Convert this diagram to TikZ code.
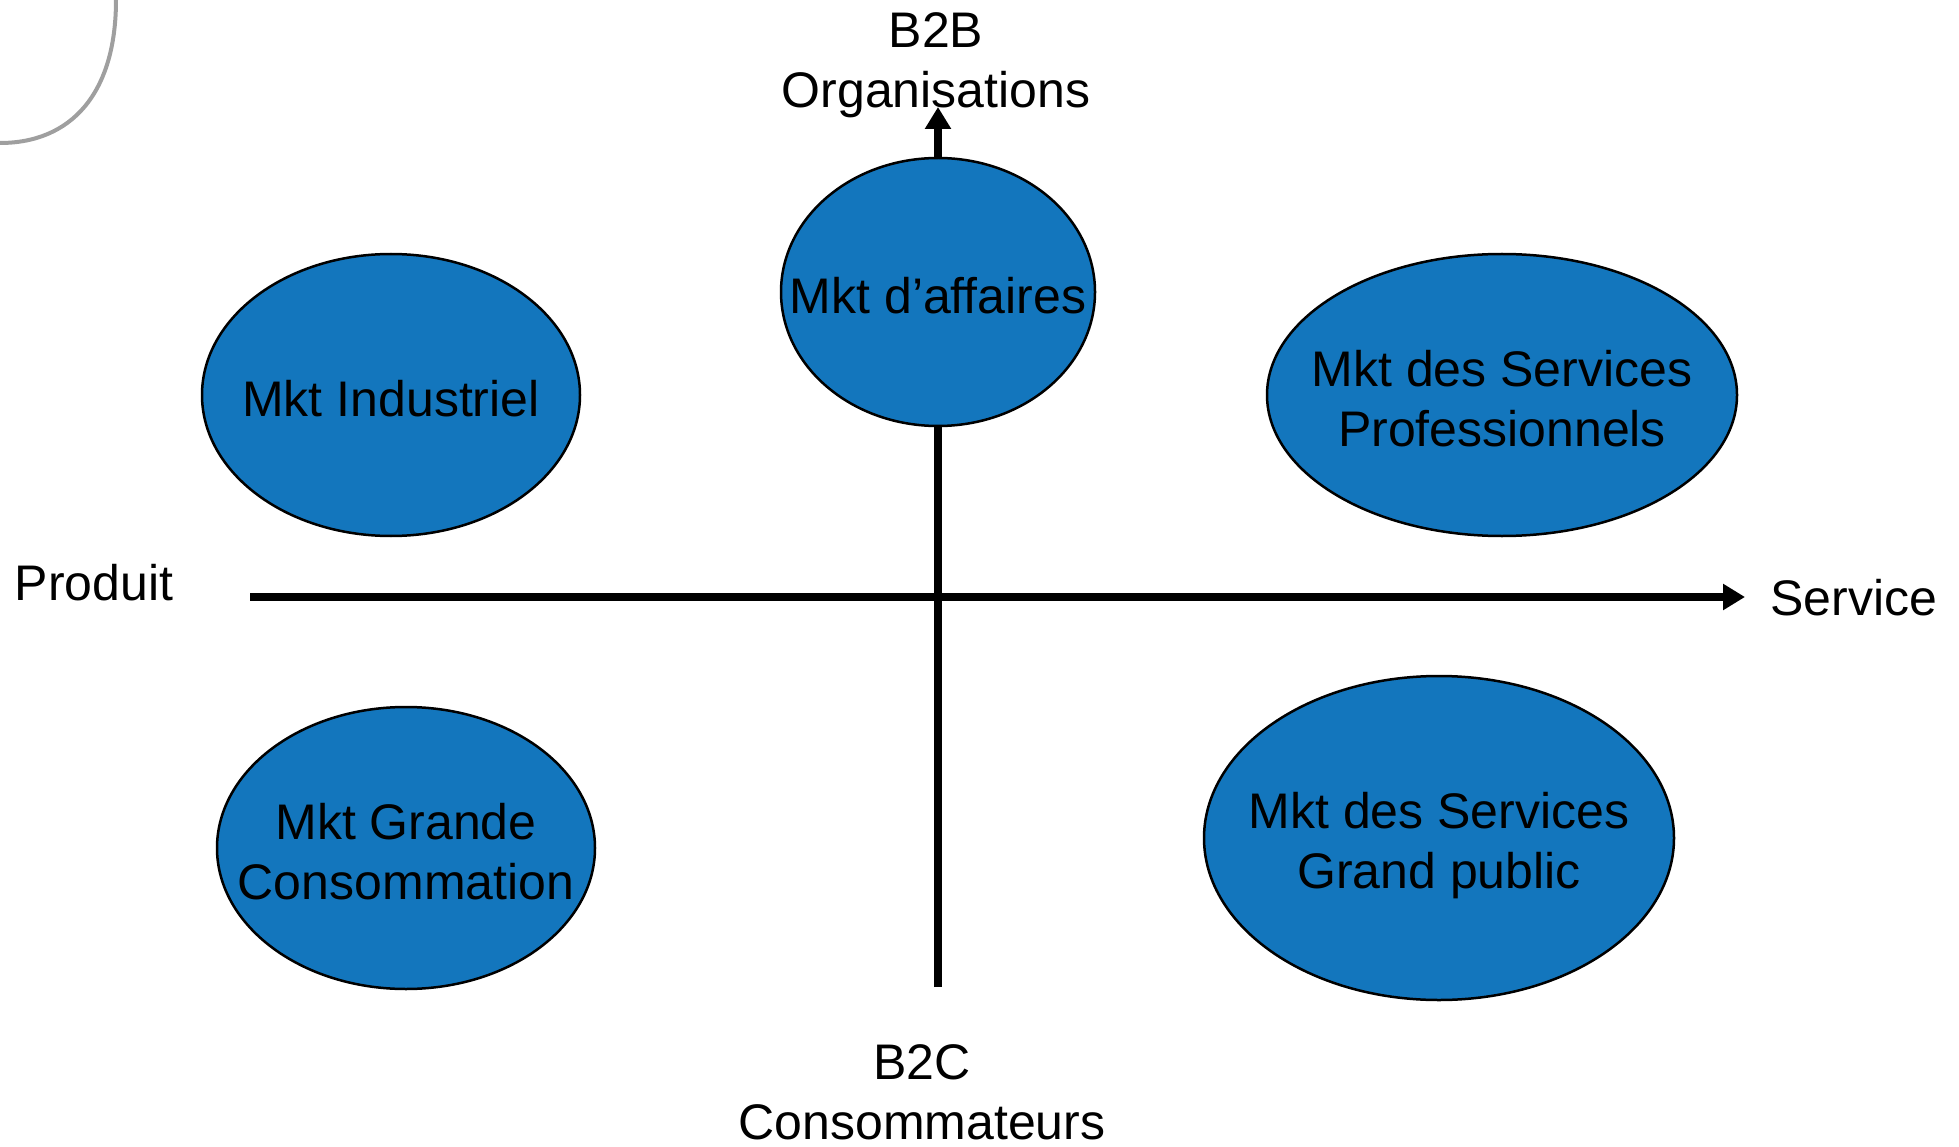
\documentclass[tikz,border=0pt]{standalone}
\usepackage{fontspec}
\setmainfont{Liberation Sans}
\usepackage{tikz}
\usetikzlibrary{arrows,arrows.meta,shapes.geometric,positioning}
\definecolor{mktblue}{RGB}{19,118,189}

\begin{document}
\begin{tikzpicture}
	[x=1pt,y=-1pt,every node/.style={font=\fontsize{50}{60}\selectfont,align=center,inner sep=0pt},
	mkt/.style={ellipse,draw=black,line width=2.5pt,fill=mktblue},
	mkttext/.style={yshift=-3.5pt},
	axis/.style={line width=8pt,-{Triangle[length=22pt,width=25pt]}}]
	\useasboundingbox (0,0) rectangle (1959,1147);
	% corner of the slide frame
	\draw[gray!75,line width=4pt] (116,0) .. controls (116,95) and (70,143) .. (0,143);
	
	% axes
	\coordinate (west) at (250,597);
	\coordinate (east) at (1745,597);
	\coordinate (south) at (938,987);
	\coordinate (north) at (938,107);
	\draw[axis] (west) -- (east);
	\draw[axis] (south) -- (north);
	
	\node (b2b) at (936,65) {B2B\\Organisations};
	\node (b2c) at (922,1092) {B2C\\Consommateurs};
	\node[anchor=base] (produit) at (94,600) {Produit};
	\node[anchor=base west] (service) at (1770,615) {Service};
	
	% the five markets
	\node[mkt,minimum width=378pt,minimum height=282pt] (ind) at (391,395) {};
	\node[mkt,minimum width=314pt,minimum height=268pt] (aff) at (938,292) {};
	\node[mkt,minimum width=470pt,minimum height=282pt] (pro) at (1502,395) {};
	\node[mkt,minimum width=378pt,minimum height=282pt] (gc) at (406,848) {};
	\node[mkt,minimum width=470pt,minimum height=324pt] (gp) at (1439,838) {};
	
	\node[mkttext] (indtxt) at (ind) {Mkt Industriel};
	\node[mkttext] (afftxt) at (aff) {Mkt d’affaires};
	\node[mkttext] (protxt) at (pro) {Mkt des Services\\Professionnels};
	\node[mkttext] (gctxt) at (gc) {Mkt Grande\\Consommation};
	\node[mkttext,yshift=-4pt] (gptxt) at (gp) {Mkt des Services\\Grand public};
\end{tikzpicture}
\end{document}
